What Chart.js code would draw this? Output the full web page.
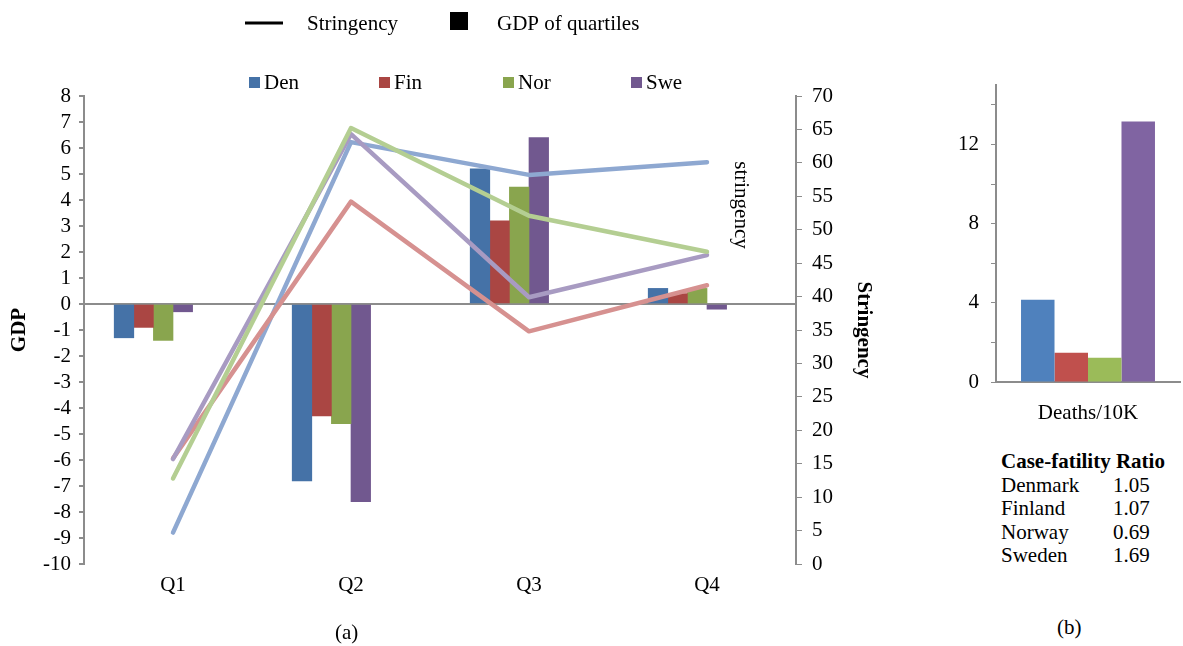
<!DOCTYPE html>
<html>
<head>
<meta charset="utf-8">
<script src="https://cdn.jsdelivr.net/npm/chart.js@4.4.1/dist/chart.umd.min.js"></script>
<style>
  body { margin: 0; background: #fff; }
  #wrap { position: relative; width: 1183px; height: 646px; background: #fff; font-family: "Liberation Serif", serif; color: #000; }
  canvas { position: absolute; top: 0; }
  .cap { position: absolute; font-size: 21px; }
  #cfr { position: absolute; left: 1001px; top: 450px; font-size: 21px; line-height: 23.5px; }
  #cfr .v { position: absolute; left: 112px; }
</style>
</head>
<body>
<div id="wrap">
  <canvas id="gdpChart" width="880" height="646" style="left:0"></canvas>
  <canvas id="deathChart" width="283" height="440" style="left:900px"></canvas>
  <div id="cfr"></div>
  <div class="cap" style="left:335px;top:620px">(a)</div>
  <div class="cap" style="left:1057px;top:615px">(b)</div>
</div>
<script>
// quarters + countries
const quarters = ["Q1", "Q2", "Q3", "Q4"];
const countries = ["Den", "Fin", "Nor", "Swe"];

// GDP change per quarter (left axis)
const gdpDen = [-1.3, -6.8, 5.2, 0.6];
const gdpFin = [-0.9, -4.3, 3.2, 0.4];
const gdpNor = [-1.4, -4.6, 4.5, 0.6];
const gdpSwe = [-0.3, -7.6, 6.4, -0.2];

// stringency index per quarter (right axis)
const strDen = [4.7, 63.1, 58.2, 60.1];
const strFin = [15.8, 54.2, 34.8, 41.7];
const strNor = [12.8, 65.2, 52.1, 46.7];
const strSwe = [15.7, 64.3, 39.9, 46.2];

// panel (b)
const deathCategory = ["Deaths/10K"];
const deaths = [4.15, 1.48, 1.23, 13.16];
const cfrNames = ["Denmark", "Finland", "Norway", "Sweden"];
const cfrValues = ["1.05", "1.07", "0.69", "1.69"];
const keyLabels = ["Stringency", "GDP of quartiles"];

const gdpSeries = [gdpDen, gdpFin, gdpNor, gdpSwe];
const strSeries = [strDen, strFin, strNor, strSwe];

const barColors = ["#4572A7", "#AA4643", "#89A54E", "#71588F"];
const lineColors = ["#8EA8D1", "#D69190", "#B4CE92", "#A89BC2"];
const lineOrder = [3, 2, 0, 1]; // green on top, then purple
const deathColors = ["#4F81BD", "#C0504D", "#9BBB59", "#8064A2"];
const axisGrey = "#8c8c8c";
const FONT = "Liberation Serif";
const FS = 21;

const topLegend = {
  id: "topLegend",
  afterDraw: (chart) => {
    const c = chart.ctx;
    c.save();
    c.font = `${FS}px "${FONT}"`;
    c.textBaseline = "middle";
    c.fillStyle = "#000";
    c.strokeStyle = "#000";
    c.lineWidth = 3;
    c.beginPath();
    c.moveTo(245, 23);
    c.lineTo(283, 23);
    c.stroke();
    c.fillText(keyLabels[0], 307, 24);
    c.fillRect(450, 12, 18, 18);
    c.fillText(keyLabels[1], 497, 24);

    const xs = [249, 379, 503, 631];
    countries.forEach((name, i) => {
      c.fillStyle = barColors[i];
      c.fillRect(xs[i], 77, 11, 11);
      c.fillStyle = "#000";
      c.fillText(name, xs[i] + 15, 83);
    });

    // little label inside the plot
    c.translate(741, 205);
    c.rotate(Math.PI / 2);
    c.textAlign = "center";
    c.fillText("stringency", 0, 0);
    c.restore();
  },
};

const datasets = [];
strSeries.forEach((s, i) => {
  datasets.push({
    type: "line",
    label: countries[i],
    data: s,
    xAxisID: "x",
    yAxisID: "y2",
    borderColor: lineColors[i],
    borderWidth: 4.5,
    borderCapStyle: "round",
    borderJoinStyle: "round",
    pointRadius: 0,
    tension: 0,
    order: lineOrder[i],
  });
});
gdpSeries.forEach((s, i) => {
  datasets.push({
    type: "bar",
    label: countries[i],
    data: s.map((v, k) => ({ x: k, y: v })),
    xAxisID: "xb",
    yAxisID: "y",
    backgroundColor: barColors[i],
    borderWidth: 0,
    barThickness: 19.6,
    order: 10 + i,
  });
});

new Chart(document.getElementById("gdpChart").getContext("2d"), {
  data: { labels: quarters, datasets: datasets },
  plugins: [topLegend],
  options: {
    responsive: false,
    animation: false,
    devicePixelRatio: 1,
    layout: { padding: { top: 96, bottom: 0, left: 3, right: 0 } },
    plugins: { legend: { display: false }, tooltip: { enabled: false } },
    scales: {
      x: {
        type: "category",
        offset: true,
        grid: { display: false },
        border: { display: false },
        ticks: { color: "#000", font: { family: FONT, size: FS }, padding: 1 },
        afterFit: (s) => { s.height = 82; },
      },
      // hidden index axis for the bars; the group lands a bit left of the label like the original
      xb: {
        type: "linear",
        display: false,
        offset: false,
        grid: { offset: false },
        min: -0.5,
        max: 3.5,
        ticks: { stepSize: 1, includeBounds: false },
      },
      y: {
        position: "left",
        min: -10,
        max: 8,
        ticks: { stepSize: 1, autoSkip: false, color: "#000", font: { family: FONT, size: FS }, padding: 8 },
        grid: {
          color: (ctx) => (ctx.tick && ctx.tick.value === 0 ? axisGrey : "rgba(0,0,0,0)"),
          lineWidth: 2,
          tickColor: axisGrey,
          tickLength: 5,
        },
        border: { color: axisGrey, width: 2 },
        title: { display: true, text: "GDP", color: "#000", font: { family: FONT, size: FS, weight: "bold" } },
        afterFit: (s) => { s.width = 81; },
      },
      y2: {
        position: "right",
        min: 0,
        max: 70,
        ticks: { stepSize: 5, autoSkip: false, color: "#000", font: { family: FONT, size: FS }, padding: 10 },
        grid: { drawOnChartArea: false, color: axisGrey, tickLength: 6 },
        border: { color: axisGrey, width: 2 },
        title: { display: true, text: "Stringency", color: "#000", font: { family: FONT, size: FS, weight: "bold" } },
        afterFit: (s) => { s.width = 84; },
      },
    },
  },
});

new Chart(document.getElementById("deathChart").getContext("2d"), {
  type: "bar",
  data: {
    labels: deathCategory,
    datasets: deaths.map((v, i) => ({
      label: cfrNames[i],
      data: [v],
      backgroundColor: deathColors[i],
      borderWidth: 0,
      barPercentage: 1,
      categoryPercentage: 0.728,
    })),
  },
  options: {
    responsive: false,
    animation: false,
    devicePixelRatio: 1,
    layout: { padding: { top: 85, bottom: 0, left: 0, right: 3 } },
    plugins: { legend: { display: false }, tooltip: { enabled: false } },
    scales: {
      x: {
        grid: { display: false },
        border: { color: axisGrey, width: 2 },
        ticks: { color: "#000", font: { family: FONT, size: FS }, padding: 11 },
        afterFit: (s) => { s.height = 58; },
      },
      y: {
        min: 0,
        max: 15,
        ticks: {
          stepSize: 2,
          includeBounds: false,
          autoSkip: false,
          color: "#000",
          font: { family: FONT, size: FS },
          padding: 12,
          callback: (v) => (v % 4 === 0 ? v : ""),
        },
        grid: { drawOnChartArea: false, color: axisGrey, tickLength: 5 },
        border: { color: axisGrey, width: 2 },
        afterFit: (s) => { s.width = 96; },
      },
    },
  },
});

// case-fatality table
const cfr = document.getElementById("cfr");
let html = "<div style='font-weight:bold'>Case-fatility Ratio</div>";
cfrNames.forEach((n, i) => {
  html += `<div style="position:relative">${n}<span class="v">${cfrValues[i]}</span></div>`;
});
cfr.innerHTML = html;
</script>
</body>
</html>
